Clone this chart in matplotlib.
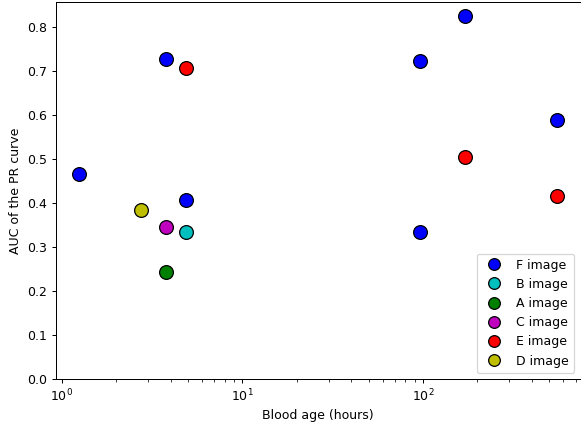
import matplotlib
matplotlib.use("Agg")
import matplotlib.pyplot as plt

# blood age (hours) and AUC of the PR curve per image type
f_age = [1.25, 3.75, 4.85, 96, 96, 170, 550]
f_auc = [0.465, 0.727, 0.407, 0.722, 0.333, 0.825, 0.587]

b_age = [4.85]
b_auc = [0.333]

a_age = [3.75]
a_auc = [0.242]

c_age = [3.75]
c_auc = [0.344]

e_age = [4.85, 170, 550]
e_auc = [0.706, 0.505, 0.416]

d_age = [2.75]
d_auc = [0.384]

series = [
    ("F image", f_age, f_auc, "b"),
    ("B image", b_age, b_auc, "c"),
    ("A image", a_age, a_auc, "g"),
    ("C image", c_age, c_auc, "m"),
    ("E image", e_age, e_auc, "r"),
    ("D image", d_age, d_auc, "y"),
]

dpi = 90
fig = plt.figure(figsize=(581 / dpi, 430 / dpi), dpi=dpi)
ax = fig.add_axes([55.5 / 581, 51 / 430, 525 / 581, 377 / 430])

for label, x, y, col in series:
    ax.plot(x, y, "o", color=col, markeredgecolor="k", markersize=11, label=label)

ax.set_xscale("log")
ax.set_ylim(0, 0.856)
ax.set_xlabel("Blood age (hours)")
ax.set_ylabel("AUC of the PR curve")
ax.legend(loc="lower right", markerscale=0.85)

fig.savefig("out.png", dpi=dpi)
